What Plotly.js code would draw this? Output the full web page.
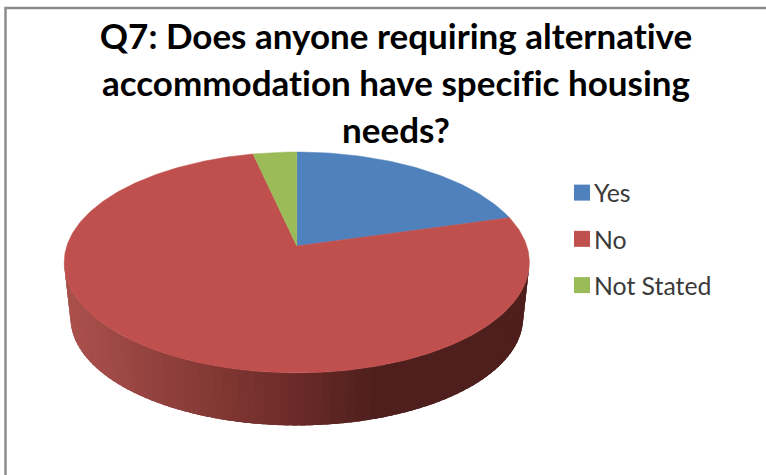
<!DOCTYPE html>
<html>
<head>
<meta charset="utf-8">
<script src="https://cdn.plot.ly/plotly-3.0.1.min.js"></script>
<style>
html,body{margin:0;padding:0;background:#fff;overflow:hidden}
svg text, svg tspan{font-variant-ligatures:none !important;font-feature-settings:"liga" 0,"clig" 0 !important}
</style>
</head>
<body>
<div id="chart" style="width:766px;height:475px"></div>
<script>
// Survey answers, in percent
const categories = ['Yes', 'No', 'Not Stated'];
const shares = [20.6, 75.9, 3.5];
const topColors = ['#4f81bd', '#c0504d', '#9bbb59'];

// Tilted disc: a circle seen in perspective, drawn on a pixel-sized cartesian canvas
const W = 766, H = 475;
const disc = {cx: 296.8, cy: 246, rx: 230, ry: 108, k: 0.149};
const rimDrop = 56, rimScale = 0.973;

// Side wall shading, left to right
const wallShade = [[70, [170, 80, 76]], [297, [107, 42, 39]], [378, [78, 31, 29]], [530, [78, 31, 29]]];

function project(theta, scale, drop) {
  const u = Math.sin(theta), v = Math.cos(theta), d = 1 + disc.k * v;
  return [disc.cx + scale * disc.rx * u / d, disc.cy + drop - scale * disc.ry * v / d];
}
function shadeAt(x) {
  for (let i = 1; i < wallShade.length; i++) {
    const [x0, c0] = wallShade[i - 1], [x1, c1] = wallShade[i];
    if (x <= x1) {
      const t = Math.max(0, (x - x0) / (x1 - x0));
      return 'rgb(' + c0.map((c, j) => Math.round(c + (c1[j] - c) * t)).join(',') + ')';
    }
  }
  return 'rgb(' + wallShade[wallShade.length - 1][1].join(',') + ')';
}

const traces = [];

// Front wall: quads between the upper and lower rim, painted right to left
// with each one overlapping the next so no seams show
const edge = Math.acos(-disc.k);
const strips = 90;
const arc = 2 * Math.PI - 2 * edge;
for (let i = 0; i < strips; i++) {
  const a = edge + arc * i / strips;
  const b = Math.min(edge + arc, edge + arc * (i + 2.5) / strips);
  const mid = project(edge + arc * (i + 0.5) / strips, 1, 0);
  const pts = [];
  for (let j = 0; j <= 5; j++) pts.push(project(a + (b - a) * j / 5, 1, 0));
  for (let j = 5; j >= 0; j--) pts.push(project(a + (b - a) * j / 5, rimScale, rimDrop));
  const col = shadeAt(mid[0]);
  traces.push({
    type: 'scatter', mode: 'lines', fill: 'toself', fillcolor: col,
    x: pts.map(p => p[0]), y: pts.map(p => p[1]),
    line: {width: 0}, showlegend: false, hoverinfo: 'skip'
  });
}

// Top face wedges, clockwise from twelve o'clock
const total = shares.reduce((a, b) => a + b, 0);
let start = 0;
shares.forEach((share, i) => {
  const sweep = 2 * Math.PI * share / total;
  const n = Math.max(8, Math.ceil(share * 4));
  const xs = [disc.cx], ys = [disc.cy];
  for (let j = 0; j <= n; j++) {
    const p = project(start + sweep * j / n, 1, 0);
    xs.push(p[0]); ys.push(p[1]);
  }
  xs.push(disc.cx); ys.push(disc.cy);
  traces.push({
    type: 'scatter', mode: 'lines', fill: 'toself', fillcolor: topColors[i],
    x: xs, y: ys, line: {color: topColors[i], width: 0.5},
    name: categories[i], showlegend: false, hoverinfo: 'name'
  });
  start += sweep;
});

// Legend entries with square swatches
categories.forEach((name, i) => {
  traces.push({
    type: 'scatter', mode: 'markers', x: [null], y: [null], name: name,
    legendgroup: name, showlegend: true, hoverinfo: 'skip',
    marker: {symbol: 'square', size: 16, color: topColors[i]}
  });
});

const titleLines = ['Q7: Does anyone requiring alternative', 'accommodation have specific housing', 'needs?'];

const layout = {
  width: W, height: H,
  margin: {l: 0, r: 0, t: 0, b: 0},
  paper_bgcolor: '#ffffff', plot_bgcolor: '#ffffff',
  font: {family: 'Lato, sans-serif'},
  xaxis: {range: [0, W], visible: false, fixedrange: true},
  yaxis: {range: [H, 0], visible: false, fixedrange: true},
  title: {
    text: titleLines.map(t => '<span style="font-size:35px">' + t + '</span>').join('<br>'),
    font: {family: 'Lato, sans-serif', size: 36, color: '#000000', weight: 700},
    x: 396 / W, xanchor: 'center', y: 1 - 49 / H, yanchor: 'top'
  },
  legend: {
    x: 554 / W, xanchor: 'left', y: 1 - 170 / H, yanchor: 'top',
    font: {family: 'Lato, sans-serif', size: 24.8, color: '#3a3a3a'},
    tracegroupgap: 11, bgcolor: 'rgba(0,0,0,0)', borderwidth: 0
  },
  shapes: [{
    type: 'rect', xref: 'x', yref: 'y', x0: 5.5, y0: 8, x1: W + 20, y1: H + 20,
    line: {color: '#8c8c8c', width: 2.5}, fillcolor: 'rgba(0,0,0,0)', layer: 'above'
  }],
  showlegend: true,
  hovermode: 'closest'
};

Plotly.newPlot('chart', traces, layout, {displayModeBar: false}).then(() => {
  // Bring the swatches closer to their labels
  document.querySelectorAll('.legend .legendpoints').forEach(g => g.setAttribute('transform', 'translate(8,0)'));
});
</script>
</body>
</html>
